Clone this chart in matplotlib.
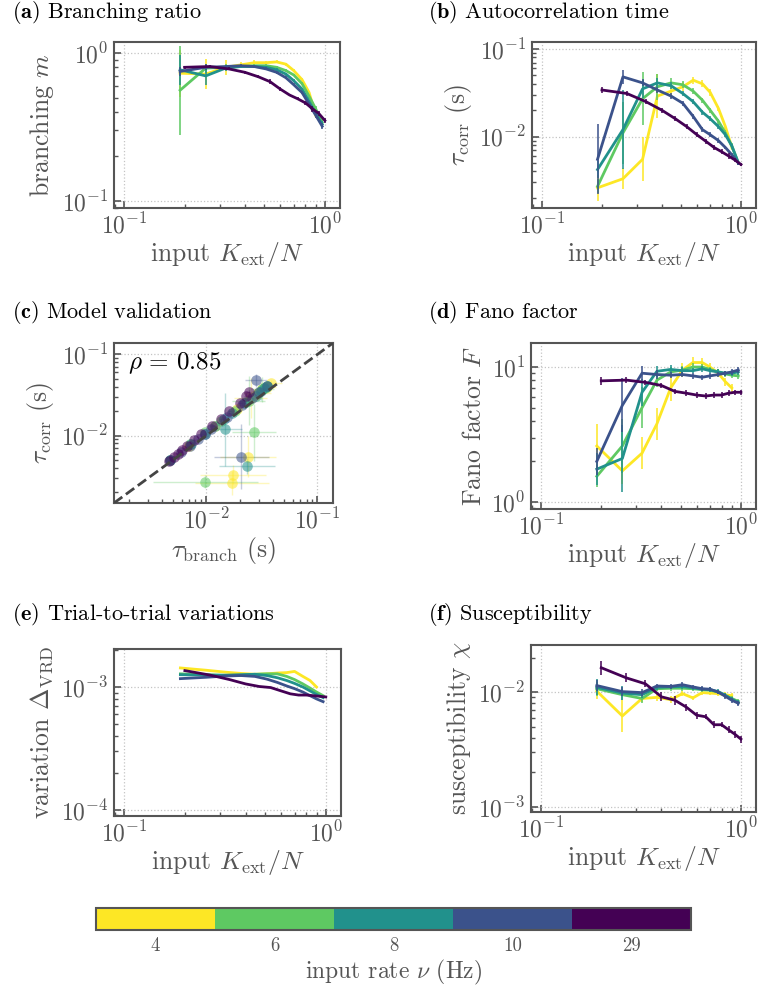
import numpy as np
import matplotlib
matplotlib.use("Agg")
import matplotlib.pyplot as plt
import matplotlib.ticker as ticker
from matplotlib.colors import ListedColormap, BoundaryNorm
from matplotlib.cm import ScalarMappable

# Computer Modern look
plt.rcParams["font.family"] = "serif"
plt.rcParams["font.serif"] = ["cmr10"]
plt.rcParams["mathtext.fontset"] = "cm"
plt.rcParams["axes.formatter.use_mathtext"] = True

nan = np.nan

# input rates (Hz) and colours
rates = ["4", "6", "8", "10", "29"]
colors = ["#fde725", "#5ec962", "#21918c", "#3b528b", "#440154"]

# input K_ext/N for each rate
k_low = [0.19, 0.255, 0.32, 0.38, 0.445, 0.51, 0.575, 0.64, 0.70, 0.77, 0.835, 0.90, 0.97]
k_29 = [0.2, 0.267, 0.333, 0.4, 0.467, 0.533, 0.6, 0.667, 0.733, 0.8, 0.867, 0.933, 1.0]

# (a) branching ratio m
m_4 = [0.73, 0.72, 0.80, 0.83, 0.86, 0.86, 0.87, 0.84, 0.76, 0.66, 0.54, 0.38, nan]
m_6 = [0.56, 0.79, 0.80, 0.81, 0.82, 0.82, 0.80, 0.76, 0.71, 0.62, 0.51, 0.42, 0.34]
m_8 = [0.77, 0.70, 0.79, 0.81, 0.81, 0.80, 0.77, 0.72, 0.65, 0.57, 0.47, 0.39, 0.33]
m_10 = [0.75, 0.80, 0.81, 0.82, 0.81, 0.78, 0.74, 0.68, 0.61, 0.54, 0.45, 0.38, 0.32]
m_29 = [0.80, 0.81, 0.78, 0.74, 0.69, 0.64, 0.57, 0.52, 0.49, 0.46, 0.42, 0.39, 0.35]
m_err_4 = [0.16, 0.1, 0.05, 0.02, 0.02, 0.01, 0.01, 0.01, 0.01, 0.01, 0.01, 0.02, nan]
m_err_6 = [0.3, 0.03, 0.02, 0.01, 0.01, 0.01, 0.01, 0.01, 0.01, 0.01, 0.01, 0.02, 0.02]
m_err_8 = [0.1, 0.06, 0.02, 0.01, 0.01, 0.01, 0.01, 0.01, 0.01, 0.01, 0.01, 0.02, 0.02]
m_err_10 = [0.03, 0.02, 0.01, 0.01, 0.01, 0.01, 0.01, 0.01, 0.01, 0.01, 0.01, 0.02, 0.02]
m_err_29 = [0.01, 0.01, 0.01, 0.01, 0.01, 0.015, 0.015, 0.01, 0.01, 0.015, 0.02, 0.015, 0.015]

# (b) autocorrelation time tau_corr (s)
tc_4 = [0.0026, 0.0033, 0.0055, 0.029, 0.033, 0.037, 0.044, 0.040, 0.032, 0.021, 0.013, 0.0075, nan]
tc_6 = [0.0027, 0.011, 0.027, 0.037, 0.041, 0.039, 0.033, 0.026, 0.020, 0.015, 0.011, 0.0078, 0.0050]
tc_8 = [0.0042, 0.012, 0.035, 0.041, 0.038, 0.031, 0.025, 0.019, 0.016, 0.013, 0.0105, 0.0078, 0.0050]
tc_10 = [0.0055, 0.048, 0.041, 0.034, 0.029, 0.024, 0.017, 0.012, 0.0105, 0.009, 0.0075, 0.0062, 0.0050]
tc_29 = [0.034, 0.031, 0.025, 0.020, 0.016, 0.013, 0.0105, 0.0088, 0.0075, 0.0067, 0.0060, 0.0054, 0.0048]
tc_err_4 = [0.15, 0.12, 0.25, 0.25, 0.08, 0.05, 0.04, 0.04, 0.04, 0.03, 0.03, 0.03, nan]
tc_err_6 = [0.08, 0.35, 0.3, 0.15, 0.05, 0.04, 0.03, 0.03, 0.03, 0.03, 0.03, 0.03, 0.02]
tc_err_8 = [0.1, 0.45, 0.1, 0.05, 0.04, 0.03, 0.03, 0.03, 0.03, 0.03, 0.03, 0.02, 0.02]
tc_err_10 = [0.4, 0.08, 0.04, 0.03, 0.03, 0.03, 0.03, 0.03, 0.03, 0.03, 0.02, 0.02, 0.02]
tc_err_29 = [0.03, 0.03, 0.03, 0.03, 0.03, 0.03, 0.03, 0.03, 0.03, 0.03, 0.03, 0.02, 0.02]

# (c) branching time tau_branch (s)
tb_4 = [0.0171, 0.0174, 0.0238, 0.025, 0.029, 0.032, 0.038, 0.035, 0.028, 0.019, 0.012, 0.0070, nan]
tb_6 = [0.0098, 0.027, 0.024, 0.032, 0.035, 0.034, 0.029, 0.023, 0.018, 0.0135, 0.0098, 0.0072, 0.0047]
tb_8 = [0.0233, 0.0148, 0.031, 0.035, 0.033, 0.028, 0.022, 0.017, 0.0145, 0.012, 0.0097, 0.0073, 0.0047]
tb_10 = [0.0207, 0.0282, 0.035, 0.030, 0.026, 0.021, 0.0155, 0.011, 0.0098, 0.0084, 0.0071, 0.0059, 0.0047]
tb_29 = [0.024, 0.023, 0.020, 0.016, 0.0135, 0.0112, 0.0090, 0.0077, 0.0067, 0.0061, 0.0056, 0.0051, 0.0046]
tb_err_4 = [0.33, 0.3, 0.25, 0.15, 0.12, 0.08, 0.1, 0.08, 0.05, 0.04, 0.03, 0.03, nan]
tb_err_6 = [0.47, 0.2, 0.15, 0.1, 0.05, 0.04, 0.03, 0.03, 0.03, 0.02, 0.02, 0.02, 0.02]
tb_err_8 = [0.25, 0.15, 0.08, 0.05, 0.04, 0.03, 0.03, 0.02, 0.02, 0.02, 0.02, 0.02, 0.02]
tb_err_10 = [0.25, 0.1, 0.05, 0.04, 0.03, 0.03, 0.02, 0.02, 0.02, 0.02, 0.02, 0.02, 0.02]
tb_err_29 = [0.02, 0.02, 0.02, 0.02, 0.02, 0.02, 0.02, 0.02, 0.02, 0.02, 0.02, 0.02, 0.02]

# (d) Fano factor F
F_4 = [2.6, 1.7, 2.3, 3.8, 7.0, 9.5, 10.8, 10.8, 10.0, 9.0, 7.8, 7.0, nan]
F_6 = [1.55, 2.6, 5.0, 8.0, 9.2, 9.5, 10.0, 10.0, 9.6, 9.2, 8.9, 8.7, 8.6]
F_8 = [1.75, 2.1, 6.5, 9.3, 9.6, 9.4, 9.4, 9.7, 9.4, 9.2, 9.0, 9.0, 9.2]
F_10 = [2.0, 5.2, 9.0, 8.8, 8.7, 8.8, 8.6, 8.4, 8.6, 8.8, 9.0, 9.2, 9.5]
F_29 = [7.9, 8.0, 7.7, 7.3, 6.6, 6.4, 6.2, 6.1, 6.2, 6.2, 6.4, 6.5, 6.5]
F_err_4 = [0.16, 0.1, 0.12, 0.12, 0.1, 0.05, 0.04, 0.03, 0.03, 0.03, 0.03, 0.03, nan]
F_err_6 = [0.08, 0.2, 0.15, 0.05, 0.04, 0.03, 0.03, 0.02, 0.02, 0.02, 0.02, 0.02, 0.02]
F_err_8 = [0.12, 0.25, 0.1, 0.04, 0.03, 0.03, 0.02, 0.02, 0.02, 0.02, 0.02, 0.02, 0.02]
F_err_10 = [0.1, 0.2, 0.05, 0.03, 0.02, 0.02, 0.02, 0.02, 0.02, 0.02, 0.02, 0.02, 0.02]
F_err_29 = [0.03, 0.02, 0.02, 0.02, 0.02, 0.02, 0.02, 0.02, 0.02, 0.02, 0.02, 0.02, 0.02]

# (e) trial-to-trial variation Delta_VRD
v_4 = [1.43e-3, 1.37e-3, 1.32e-3, 1.29e-3, 1.27e-3, 1.28e-3, 1.30e-3, 1.31e-3, 1.34e-3, 1.22e-3, 1.13e-3, 1.0e-3, nan]
v_6 = [1.28e-3, 1.26e-3, 1.24e-3, 1.25e-3, 1.27e-3, 1.28e-3, 1.28e-3, 1.22e-3, 1.15e-3, 1.06e-3, 0.98e-3, 0.91e-3, 0.85e-3]
v_8 = [1.26e-3, 1.25e-3, 1.25e-3, 1.26e-3, 1.27e-3, 1.24e-3, 1.19e-3, 1.13e-3, 1.07e-3, 1.0e-3, 0.93e-3, 0.87e-3, 0.82e-3]
v_10 = [1.17e-3, 1.20e-3, 1.23e-3, 1.24e-3, 1.22e-3, 1.16e-3, 1.09e-3, 1.02e-3, 0.97e-3, 0.91e-3, 0.85e-3, 0.80e-3, 0.76e-3]
v_29 = [1.36e-3, 1.25e-3, 1.15e-3, 1.06e-3, 1.01e-3, 0.99e-3, 0.93e-3, 0.88e-3, 0.86e-3, 0.86e-3, 0.85e-3, 0.84e-3, 0.83e-3]

# (f) susceptibility chi
chi_4 = [0.0102, 0.0062, 0.0088, 0.0090, 0.0086, 0.0097, 0.0089, 0.0099, 0.0098, 0.0097, 0.0095, 0.0093, nan]
chi_6 = [0.0107, 0.0095, 0.0088, 0.0107, 0.0108, 0.0108, 0.0107, 0.0105, 0.0104, 0.0100, 0.0093, 0.0088, 0.0083]
chi_8 = [0.0110, 0.0098, 0.0095, 0.0110, 0.0111, 0.0112, 0.0109, 0.0106, 0.0105, 0.0101, 0.0094, 0.0087, 0.0081]
chi_10 = [0.0114, 0.0101, 0.0099, 0.0113, 0.0112, 0.0116, 0.0111, 0.0107, 0.0106, 0.0100, 0.0092, 0.0085, 0.0080]
chi_29 = [0.0163, 0.0133, 0.0118, 0.0091, 0.0085, 0.0074, 0.0063, 0.0061, 0.0052, 0.0052, 0.0047, 0.0043, 0.0039]
chi_err_4 = [0.07, 0.14, 0.03, 0.03, 0.03, 0.02, 0.02, 0.02, 0.02, 0.02, 0.02, 0.02, nan]
chi_err_6 = [0.06, 0.05, 0.04, 0.02, 0.02, 0.02, 0.02, 0.02, 0.02, 0.02, 0.02, 0.02, 0.02]
chi_err_8 = [0.07, 0.06, 0.03, 0.02, 0.02, 0.02, 0.02, 0.02, 0.02, 0.02, 0.02, 0.02, 0.02]
chi_err_10 = [0.05, 0.04, 0.03, 0.02, 0.02, 0.02, 0.02, 0.02, 0.02, 0.02, 0.02, 0.02, 0.02]
chi_err_29 = [0.06, 0.04, 0.03, 0.04, 0.04, 0.03, 0.03, 0.02, 0.03, 0.02, 0.03, 0.03, 0.03]

k_values = [k_low, k_low, k_low, k_low, k_29]
branching = [m_4, m_6, m_8, m_10, m_29]
branching_err = [m_err_4, m_err_6, m_err_8, m_err_10, m_err_29]
tau_corr = [tc_4, tc_6, tc_8, tc_10, tc_29]
tau_corr_err = [tc_err_4, tc_err_6, tc_err_8, tc_err_10, tc_err_29]
tau_branch = [tb_4, tb_6, tb_8, tb_10, tb_29]
tau_branch_err = [tb_err_4, tb_err_6, tb_err_8, tb_err_10, tb_err_29]
fano = [F_4, F_6, F_8, F_10, F_29]
fano_err = [F_err_4, F_err_6, F_err_8, F_err_10, F_err_29]
variation = [v_4, v_6, v_8, v_10, v_29]
suscept = [chi_4, chi_6, chi_8, chi_10, chi_29]
suscept_err = [chi_err_4, chi_err_6, chi_err_8, chi_err_10, chi_err_29]

GRAY = "#555555"
W, H = 758, 992


def px(l, t, r, b):
    # pixel box -> figure fraction
    return [l / W, 1 - b / H, (r - l) / W, (b - t) / H]


def log_err(y, e):
    # errors are given in decades, turn them into lower/upper lengths
    y = np.array(y, dtype=float)
    e = np.array(e, dtype=float)
    return [y - y * 10 ** (-e), y * 10 ** e - y]


def style_axis(ax, xlabel, ylabel, xlim, ylim):
    ax.set_xscale("log")
    ax.set_yscale("log")
    ax.set_xlim(xlim)
    ax.set_ylim(ylim)
    ax.grid(True, which="major", color="#c4c4c4", linestyle=":", linewidth=0.9)
    ax.set_axisbelow(True)
    ax.xaxis.set_minor_formatter(ticker.NullFormatter())
    ax.yaxis.set_minor_formatter(ticker.NullFormatter())
    ax.tick_params(which="both", direction="in", colors=GRAY, labelsize=17,
                   top=False, right=False, pad=4)
    ax.tick_params(which="major", length=5, width=1.2)
    ax.tick_params(which="minor", length=3, width=1.0)
    for s in ax.spines.values():
        s.set_color(GRAY)
        s.set_linewidth(1.5)
    ax.set_xlabel(xlabel, fontsize=18.5, color=GRAY, labelpad=1)
    ax.set_ylabel(ylabel, fontsize=18.5, color=GRAY, labelpad=4)


def draw_lines(ax, series, errors):
    for i in range(5):
        x = np.array(k_values[i])
        y = np.array(series[i], dtype=float)
        if errors is not None:
            ax.errorbar(x, y, yerr=log_err(series[i], errors[i]), fmt="none",
                        ecolor=colors[i], elinewidth=1.3, alpha=0.85, zorder=2 + i)
        ax.plot(x, y, color=colors[i], linewidth=2, zorder=3 + i)


fig = plt.figure(figsize=(W / 100, H / 100), dpi=100)

k_lim = (0.089, 1.19)
k_label = r"input $K_\mathrm{ext}/N$"

# (a)
ax_a = fig.add_axes(px(114, 42, 340, 208))
draw_lines(ax_a, branching, branching_err)
style_axis(ax_a, k_label, r"branching $m$", k_lim, (0.0897, 1.186))

# (b)
ax_b = fig.add_axes(px(532, 42, 756, 208))
draw_lines(ax_b, tau_corr, tau_corr_err)
style_axis(ax_b, k_label, r"$\tau_\mathrm{corr}$ (s)", k_lim, (1.53e-3, 0.12))

# (c)
ax_c = fig.add_axes(px(114, 343, 333, 503))
c_lim = (1.48e-3, 0.138)
for i in range(5):
    ax_c.errorbar(tau_branch[i], tau_corr[i],
                  xerr=log_err(tau_branch[i], tau_branch_err[i]),
                  yerr=log_err(tau_corr[i], tau_corr_err[i]),
                  fmt="none", ecolor=colors[i], elinewidth=1.0, alpha=0.3, zorder=2)
for i in range(5):
    ax_c.scatter(tau_branch[i], tau_corr[i], s=58, color=colors[i], alpha=0.55,
                 linewidths=0, zorder=3)
ax_c.plot(c_lim, c_lim, color="#444444", linestyle="--", linewidth=2, zorder=4)
ax_c.text(0.065, 0.955, r"$\rho\,=\,0.85$", transform=ax_c.transAxes,
          fontsize=18, va="top", ha="left")
style_axis(ax_c, r"$\tau_\mathrm{branch}$ (s)", r"$\tau_\mathrm{corr}$ (s)", c_lim, c_lim)

# (d)
ax_d = fig.add_axes(px(531, 343, 756, 509))
draw_lines(ax_d, fano, fano_err)
style_axis(ax_d, k_label, r"Fano factor $F$", k_lim, (0.887, 15.07))

# (e)
ax_e = fig.add_axes(px(114, 649, 341, 816))
draw_lines(ax_e, variation, None)
style_axis(ax_e, k_label, r"variation $\Delta_\mathrm{VRD}$", k_lim, (8.9e-5, 2.04e-3))

# (f)
ax_f = fig.add_axes(px(531, 645, 756, 812))
draw_lines(ax_f, suscept, suscept_err)
style_axis(ax_f, k_label, r"susceptibility $\chi$", k_lim, (9.05e-4, 0.0257))

# panel titles
titles = [r"$\mathbf{(a)}$ Branching ratio", r"$\mathbf{(b)}$ Autocorrelation time",
          r"$\mathbf{(c)}$ Model validation", r"$\mathbf{(d)}$ Fano factor",
          r"$\mathbf{(e)}$ Trial-to-trial variations", r"$\mathbf{(f)}$ Susceptibility"]
title_x = [12, 428, 12, 428, 12, 428]
title_y = [12, 12, 313, 313, 614, 614]
for t, x, y in zip(titles, title_x, title_y):
    fig.text(x / W, 1 - y / H, t, fontsize=16, ha="left", va="center", color="black")

# discrete colour bar for the input rates
cax = fig.add_axes(px(96, 908, 691, 930))
cmap = ListedColormap(colors)
norm = BoundaryNorm(np.arange(6), 5)
cb = fig.colorbar(ScalarMappable(norm=norm, cmap=cmap), cax=cax,
                  orientation="horizontal", ticks=np.arange(5) + 0.5)
cb.set_ticklabels(rates)
cb.ax.minorticks_off()
cb.ax.tick_params(which="both", length=0, labelsize=13.5, colors=GRAY, pad=5)
cb.outline.set_edgecolor(GRAY)
cb.outline.set_linewidth(1.5)
cb.set_label(r"input rate $\nu$ (Hz)", fontsize=17, color=GRAY, labelpad=2)

fig.savefig("out.png", dpi=100)
